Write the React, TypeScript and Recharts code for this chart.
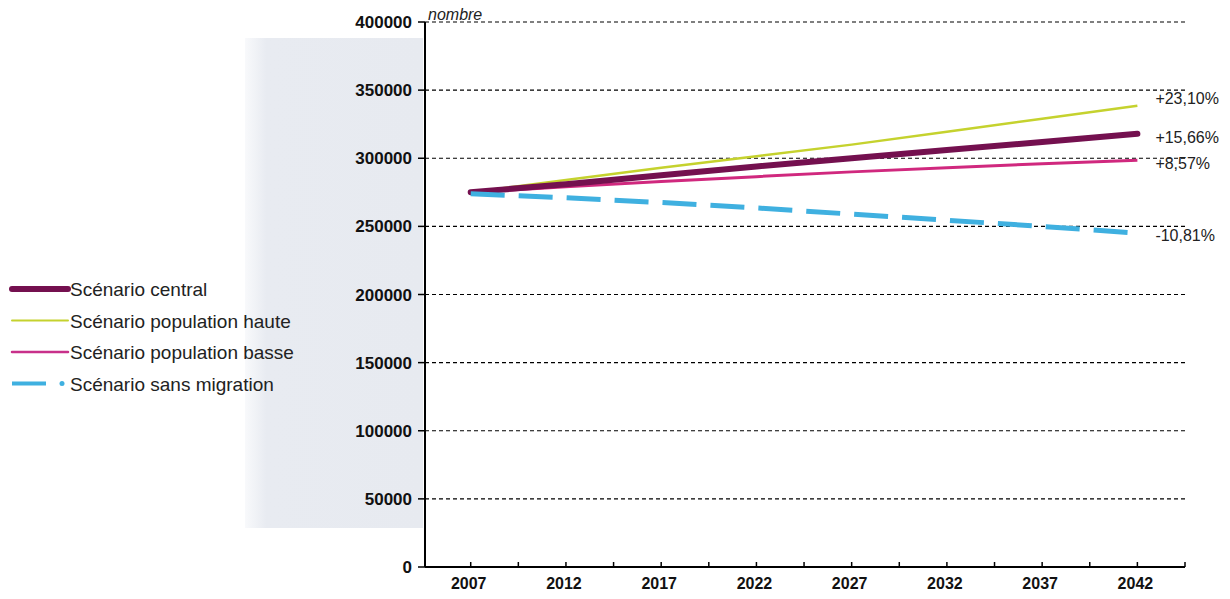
import React from 'react';
import {
  LineChart,
  Line,
  XAxis,
  YAxis,
  CartesianGrid,
  LabelList,
} from 'recharts';

const years = [2007, 2012, 2017, 2022, 2027, 2032, 2037, 2042];
const central = [275000, 281000, 287500, 294000, 300000, 306000, 312000, 318000];
const haute = [275000, 284000, 293000, 301500, 310000, 319500, 329000, 338500];
const basse = [275000, 279000, 283000, 286500, 290000, 293000, 296000, 298500];
const sansMigration = [274000, 271000, 267500, 263500, 259000, 254500, 250000, 245000];

const endLabels = {
  haute: '+23,10%',
  central: '+15,66%',
  basse: '+8,57%',
  sans: '-10,81%',
};

const xTicks = [2007, 2009.5, 2012, 2014.5, 2017, 2019.5, 2022, 2024.5, 2027, 2029.5, 2032, 2034.5, 2037, 2039.5, 2042, 2044.5];
const yTicks = [0, 50000, 100000, 150000, 200000, 250000, 300000, 350000, 400000];

const legendItems = [
  { name: 'Scénario central', color: '#74104f', width: 6, dash: undefined },
  { name: 'Scénario population haute', color: '#c5d22e', width: 2, dash: undefined },
  { name: 'Scénario population basse', color: '#c8308a', width: 2.5, dash: undefined },
  { name: 'Scénario sans migration', color: '#3fb0e0', width: 4, dash: '34 14' },
];

const data = years.map((year, i) => ({
  year,
  central: central[i],
  haute: haute[i],
  basse: basse[i],
  sans: sansMigration[i],
}));

const FONT = '"Liberation Sans", Arial, sans-serif';

const XTick = (props: any) => {
  const { x, y, payload } = props;
  const v = payload.value;
  const isLabel = Number.isInteger(v);
  return (
    <g>
      <line x1={x} x2={x} y1={y - 5} y2={y} stroke="#000" strokeWidth={1.5} />
      {isLabel && (
        <text x={x - 2} y={y + 22} textAnchor="middle" fontSize={16} fontWeight="bold" fill="#111" fontFamily={FONT}>
          {v}
        </text>
      )}
    </g>
  );
};

const makeEndLabel = (text: string, dy: number) => (props: any) => {
  const { x, y, index } = props;
  if (index !== years.length - 1) return null;
  return (
    <text x={x + 18} y={y + dy} fontSize={16} fill="#222" fontFamily={FONT}>
      {text}
    </text>
  );
};

const App: React.FC = () => {
  return (
    <div style={{ position: 'absolute', left: 0, top: 0, width: 1230, height: 599, background: '#fff', fontFamily: FONT }}>
      <div
        style={{
          position: 'absolute',
          left: 245,
          top: 38,
          width: 178,
          height: 490,
          background: 'linear-gradient(to right, rgba(232,236,243,0.3), #e8ebf1 12%, #e7eaf0)',
        }}
      />
      <LineChart
        width={1230}
        height={599}
        data={data}
        margin={{ top: 22, right: 45, bottom: 0, left: 0 }}
        style={{ position: 'absolute', left: 0, top: 0 }}
      >
        <CartesianGrid horizontal vertical={false} stroke="#000" strokeDasharray="4 3" strokeWidth={1.2} />
        <XAxis
          dataKey="year"
          type="number"
          domain={[2004.6, 2044.5]}
          ticks={xTicks}
          interval={0}
          height={32}
          tick={<XTick />}
          tickLine={false}
          tickSize={0}
          tickMargin={0}
          axisLine={{ stroke: '#000', strokeWidth: 2 }}
          allowDecimals
        />
        <YAxis
          width={425}
          domain={[0, 400000]}
          ticks={yTicks}
          interval={0}
          tick={{ fontSize: 17, fontWeight: 'bold', fill: '#111', fontFamily: FONT }}
          tickLine={{ stroke: '#000', strokeWidth: 1.5 }}
          tickSize={7}
          tickMargin={6}
          axisLine={{ stroke: '#000', strokeWidth: 2 }}
        />
        <Line type="linear" dataKey="haute" stroke="#c5d22e" strokeWidth={2.5} dot={false} isAnimationActive={false}>
          <LabelList dataKey="haute" content={makeEndLabel(endLabels.haute, -2)} />
        </Line>
        <Line type="linear" dataKey="basse" stroke="#d0287e" strokeWidth={3} dot={false} isAnimationActive={false}>
          <LabelList dataKey="basse" content={makeEndLabel(endLabels.basse, 9)} />
        </Line>
        <Line type="linear" dataKey="central" stroke="#74104f" strokeWidth={6} strokeLinecap="round" dot={false} isAnimationActive={false}>
          <LabelList dataKey="central" content={makeEndLabel(endLabels.central, 9)} />
        </Line>
        <Line type="linear" dataKey="sans" stroke="#3fb0e0" strokeWidth={5} strokeDasharray="34 14" dot={false} isAnimationActive={false}>
          <LabelList dataKey="sans" content={makeEndLabel(endLabels.sans, 8)} />
        </Line>
      </LineChart>
      <div style={{ position: 'absolute', left: 428, top: 6, fontSize: 16, fontStyle: 'italic', color: '#222' }}>nombre</div>
      <svg width={320} height={130} style={{ position: 'absolute', left: 0, top: 272 }}>
        {legendItems.map((item, i) => {
          const y = 17 + i * 31.5;
          return (
            <g key={item.name}>
              {item.dash ? (
                <>
                  <line x1={12} x2={46} y1={y} y2={y} stroke={item.color} strokeWidth={item.width} />
                  <circle cx={62} cy={y} r={2.5} fill={item.color} />
                </>
              ) : (
                <line x1={12} x2={68} y1={y} y2={y} stroke={item.color} strokeWidth={item.width} strokeLinecap="round" />
              )}
              <text x={70} y={y + 7} fontSize={19} fill="#222" fontFamily={FONT}>
                {item.name}
              </text>
            </g>
          );
        })}
      </svg>
    </div>
  );
};

export default App;
